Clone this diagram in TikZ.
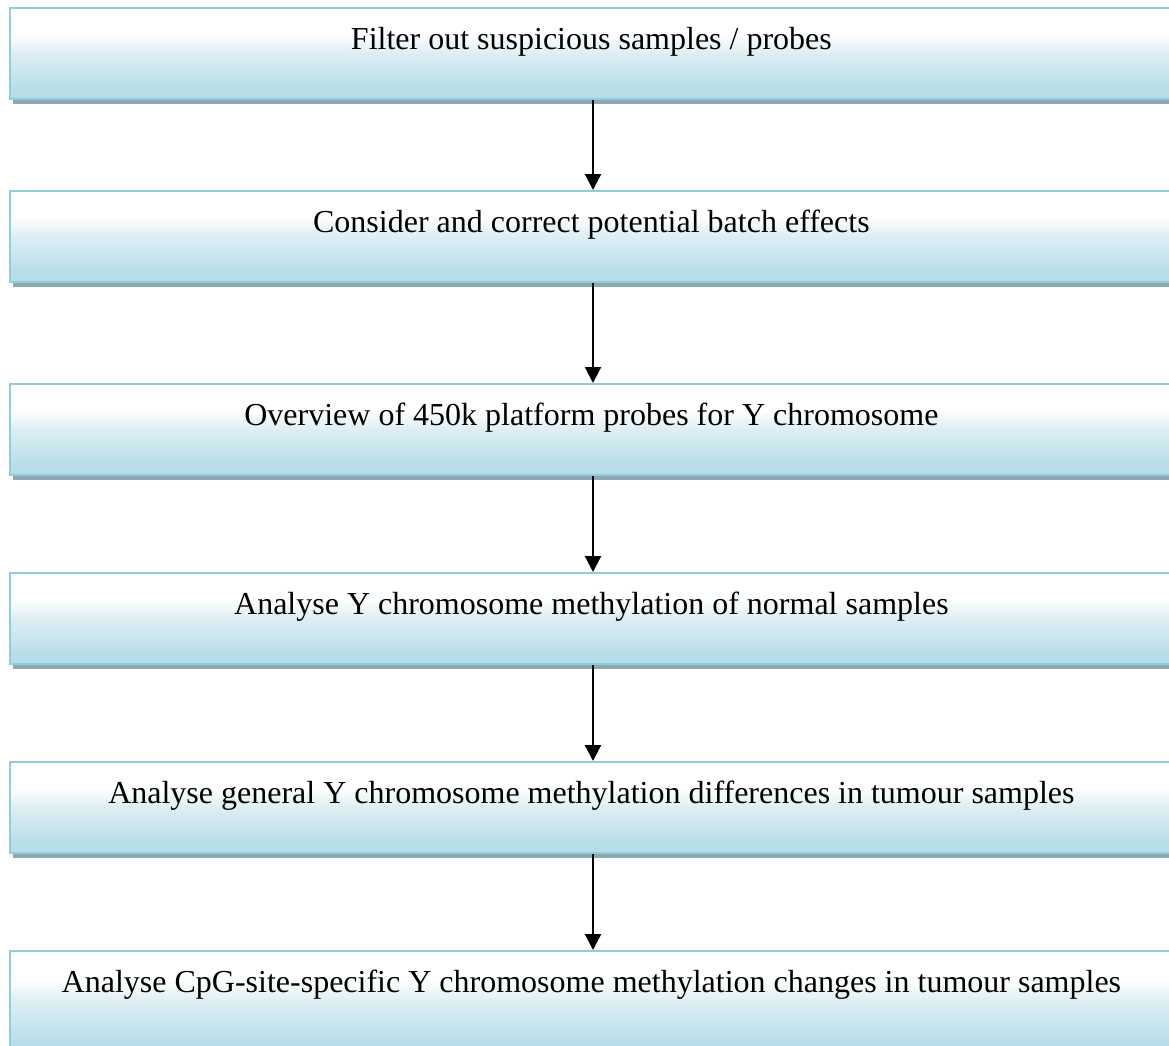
\documentclass[tikz,border=0pt]{standalone}
\usepackage{fontspec}
\setmainfont{Liberation Serif}
\usetikzlibrary{arrows.meta,shadows}
\definecolor{boxblue}{HTML}{B7DDE8}
\definecolor{boxmid}{HTML}{DDEEF3}
\definecolor{boxborder}{HTML}{93CDDD}
\definecolor{shadowc}{HTML}{8BA9B0}
\pgfdeclareverticalshading{boxgrad}{100bp}{color(0bp)=(boxblue); color(25bp)=(boxblue); color(30bp)=(boxblue); color(50bp)=(boxmid); color(61bp)=(white); color(75bp)=(white); color(100bp)=(white)}
\tikzset{
  flowbox/.style={rectangle, anchor=north west, draw=boxborder, line width=1.6pt,
    shading=boxgrad, inner xsep=0pt, inner ysep=0pt,
    minimum width=872pt, text height=30.75pt, text depth=37.5pt,
    font=\fontsize{24}{28}\selectfont, text=black,
    drop shadow={shadow xshift=2.25pt, shadow yshift=-3.75pt, fill=shadowc, opacity=1}},
  flowarrow/.style={line width=1.7pt, -{Triangle[width=12pt,length=12pt]}}
}
\begin{document}
\begin{tikzpicture}[x=0.75pt,y=-0.75pt]
\useasboundingbox (0,0) rectangle (1169,1045);
\clip (0,0) rectangle (1169,1045);
\coordinate (ax) at (593,0);
\node[flowbox] (b1) at (9,7) {Filter out suspicious samples / probes};
\node[flowbox] (b2) at (9,190) {Consider and correct potential batch effects};
\node[flowbox] (b3) at (9,383) {Overview of 450k platform probes for Y chromosome};
\node[flowbox] (b4) at (9,572) {Analyse Y chromosome methylation of normal samples};
\node[flowbox] (b5) at (9,761) {Analyse general Y chromosome methylation differences in tumour samples};
\node[flowbox, text depth=46pt] (b6) at (9,950) {Analyse CpG-site-specific Y chromosome methylation changes in tumour samples};
\draw[flowarrow] (b1.south -| ax) -- (b2.north -| ax);
\draw[flowarrow] (b2.south -| ax) -- (b3.north -| ax);
\draw[flowarrow] (b3.south -| ax) -- (b4.north -| ax);
\draw[flowarrow] (b4.south -| ax) -- (b5.north -| ax);
\draw[flowarrow] (b5.south -| ax) -- (b6.north -| ax);
\end{tikzpicture}
\end{document}
